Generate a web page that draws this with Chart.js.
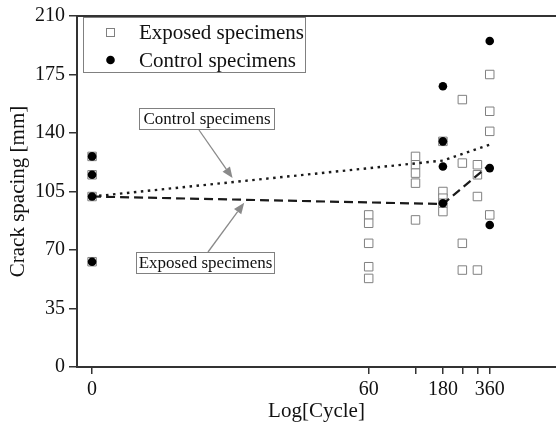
<!DOCTYPE html>
<html>
<head>
<meta charset="utf-8">
<script src="https://cdn.jsdelivr.net/npm/chart.js@4.4.1/dist/chart.umd.min.js"></script>
<style>
  html, body { margin: 0; padding: 0; background: #fff; }
  canvas { display: block; }
</style>
</head>
<body>
<canvas id="chart" width="556" height="428"></canvas>
<script>
// crack spacing [mm] read per cycle group
const cycles = [0, 60, 120, 180, 240, 300, 360];
const exposedSpacing = [
  [126, 115, 102, 63],
  [91, 86, 74, 60, 53],
  [126, 121, 116, 110, 88],
  [135, 105, 101, 98, 93],
  [160, 122, 74, 58],
  [121, 115, 102, 58],
  [175, 153, 141, 91]
];
const controlSpacing = [
  [126, 115, 102, 63],
  [],
  [],
  [168, 135, 120, 98],
  [],
  [],
  [195, 119, 85]
];

// trend lines
const trendCycles = [0, 180, 360];
const controlTrend = [102, 123.5, 133];
const exposedTrend = [102, 97.5, 121];

const xTickCycles = [0, 60, 120, 180, 240, 300, 360];
const xTickLabels = ['0', '60', '', '180', '', '', '360'];
const yTicks = [0, 35, 70, 105, 140, 175, 210];

const SERIF = "'Liberation Serif', 'Times New Roman', serif";
const INK = '#111';
const AXIS = '#333';
const GREY = '#808080';

// cycle 0 is put at 10^0 on the log axis
const logX = c => Math.max(c, 1);

function toPoints(groups) {
  const pts = [];
  groups.forEach((vals, i) => vals.forEach(v => pts.push({ x: logX(cycles[i]), y: v })));
  return pts;
}
const toLine = values => values.map((v, i) => ({ x: logX(trendCycles[i]), y: v }));

// text boxes with arrows pointing at the trend lines
const callouts = [
  { text: 'Control specimens', dataset: 2, cycle: 8, dy: -4, box: [139, 108, 135, 21], from: [199, 130] },
  { text: 'Exposed specimens', dataset: 3, cycle: 9.5, dy: 3, box: [136, 252, 138, 21], from: [208, 252] }
];

function lineYAt(meta, px) {
  const pts = meta.data;
  for (let i = 0; i < pts.length - 1; i++) {
    const a = pts[i], b = pts[i + 1];
    if (px >= a.x && px <= b.x) return a.y + (b.y - a.y) * (px - a.x) / (b.x - a.x);
  }
  return pts[pts.length - 1].y;
}

const extras = {
  id: 'extras',
  afterDraw(chart) {
    const { ctx, chartArea: area, scales } = chart;
    ctx.save();

    // top frame line
    ctx.strokeStyle = AXIS;
    ctx.lineWidth = 2;
    ctx.beginPath();
    ctx.moveTo(area.left, area.top);
    ctx.lineTo(area.right, area.top);
    ctx.stroke();

    // legend box
    ctx.fillStyle = '#fff';
    ctx.fillRect(83, 17, 223, 56);
    ctx.strokeStyle = GREY;
    ctx.lineWidth = 1;
    ctx.strokeRect(83.5, 17.5, 222, 55);
    ctx.strokeRect(106.5, 28.5, 8, 8);
    ctx.fillStyle = '#000';
    ctx.beginPath();
    ctx.arc(110.5, 60, 4.3, 0, Math.PI * 2);
    ctx.fill();
    ctx.font = '21px ' + SERIF;
    ctx.fillStyle = INK;
    ctx.textBaseline = 'middle';
    ctx.textAlign = 'left';
    ctx.fillText(chart.data.datasets[0].label, 139, 33);
    ctx.fillText(chart.data.datasets[1].label, 139, 61);

    // callouts
    callouts.forEach(c => {
      const meta = chart.getDatasetMeta(c.dataset);
      const tx = scales.x.getPixelForValue(c.cycle);
      const ty = lineYAt(meta, tx) + c.dy;
      const [fx, fy] = c.from;
      ctx.strokeStyle = '#8a8a8a';
      ctx.fillStyle = '#8a8a8a';
      ctx.lineWidth = 1.3;
      const ang = Math.atan2(ty - fy, tx - fx);
      const hl = 11, hw = 4.5;
      const bx = tx - hl * Math.cos(ang), by = ty - hl * Math.sin(ang);
      ctx.beginPath();
      ctx.moveTo(fx, fy);
      ctx.lineTo(bx, by);
      ctx.stroke();
      ctx.beginPath();
      ctx.moveTo(tx, ty);
      ctx.lineTo(bx + hw * Math.sin(ang), by - hw * Math.cos(ang));
      ctx.lineTo(bx - hw * Math.sin(ang), by + hw * Math.cos(ang));
      ctx.closePath();
      ctx.fill();

      const [x, y, w, h] = c.box;
      ctx.fillStyle = '#fff';
      ctx.fillRect(x, y, w, h);
      ctx.strokeStyle = GREY;
      ctx.lineWidth = 1;
      ctx.strokeRect(x + 0.5, y + 0.5, w, h);
      ctx.fillStyle = INK;
      ctx.font = '17px ' + SERIF;
      ctx.textAlign = 'center';
      ctx.textBaseline = 'middle';
      ctx.fillText(c.text, x + w / 2 + 0.5, y + h / 2 + 1.5);
    });
    ctx.restore();
  }
};

Chart.defaults.font.family = SERIF;
Chart.defaults.color = INK;

new Chart(document.getElementById('chart'), {
  type: 'scatter',
  data: {
    datasets: [
      {
        label: 'Exposed specimens',
        data: toPoints(exposedSpacing),
        pointStyle: 'rect',
        pointRadius: 6,
        borderColor: GREY,
        backgroundColor: '#fff',
        borderWidth: 1,
        order: 3
      },
      {
        label: 'Control specimens',
        data: toPoints(controlSpacing),
        pointStyle: 'circle',
        pointRadius: 4.3,
        borderWidth: 0,
        backgroundColor: '#000',
        order: 0
      },
      {
        label: 'Control trend',
        data: toLine(controlTrend),
        showLine: true,
        pointRadius: 0,
        borderColor: '#1a1a1a',
        borderWidth: 2.4,
        borderDash: [2.5, 4.5],
        order: 1
      },
      {
        label: 'Exposed trend',
        data: toLine(exposedTrend),
        showLine: true,
        pointRadius: 0,
        borderColor: '#1a1a1a',
        borderWidth: 2.2,
        borderDash: [9, 5],
        order: 1
      }
    ]
  },
  options: {
    responsive: false,
    animation: false,
    layout: { autoPadding: false, padding: { top: 14, right: 0, left: 0, bottom: 0 } },
    plugins: {
      legend: { display: false },
      tooltip: { enabled: false }
    },
    scales: {
      x: {
        type: 'logarithmic',
        min: 0.8,
        max: 960,
        afterBuildTicks: s => { s.ticks = xTickCycles.map(c => ({ value: logX(c) })); },
        afterFit: s => { s.height = 61; s.paddingLeft = 0; s.paddingRight = 0; },
        ticks: {
          autoSkip: false,
          maxRotation: 0,
          padding: 4,
          font: { size: 20 },
          callback: (v, i) => xTickLabels[i]
        },
        grid: { drawOnChartArea: false, drawTicks: true, tickLength: 7, color: AXIS, lineWidth: 1.5 },
        border: { display: true, color: AXIS, width: 2 },
        title: { display: true, text: 'Log[Cycle]', font: { size: 21 }, padding: { bottom: 4, top: 0 } }
      },
      y: {
        min: 0,
        max: 210,
        afterBuildTicks: s => { s.ticks = yTicks.map(v => ({ value: v })); },
        afterFit: s => { s.width = 77; },
        ticks: { padding: 4, font: { size: 20 } },
        grid: { drawOnChartArea: false, drawTicks: true, tickLength: 8, color: AXIS, lineWidth: 1.5 },
        border: { display: true, color: AXIS, width: 2 },
        title: { display: true, text: 'Crack spacing [mm]', font: { size: 21 }, padding: { top: 6, bottom: 0 } }
      }
    }
  },
  plugins: [extras]
});
</script>
</body>
</html>
